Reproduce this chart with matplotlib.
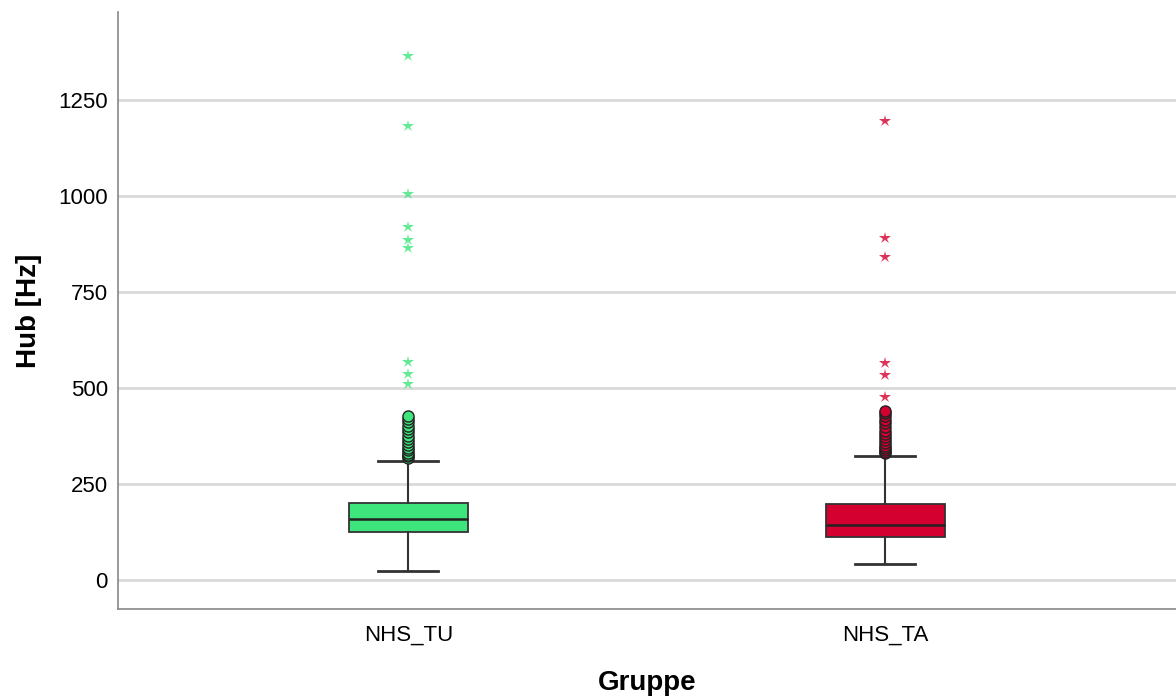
import matplotlib.pyplot as plt

plt.rcParams['font.family'] = ['Liberation Sans', 'DejaVu Sans']

# Gruppen und Farben
gruppen = ['NHS_TU', 'NHS_TA']
farben = ['#3ee47c', '#d4002f']

# Box-Kennwerte
q1 = [126, 113]
median = [158, 144]
q3 = [200, 197]
whisker_lo = [24, 41]
whisker_hi = [310, 323]

# Ausreißer (Kreise) und Extremwerte (Sterne)
ausreisser_tu = [318, 322, 327, 332, 338, 345, 352, 360, 368, 376, 385, 393, 402, 412, 420, 427]
ausreisser_ta = [330, 334, 338, 344, 350, 357, 364, 372, 380, 389, 398, 408, 418, 428, 436, 441]
extrem_tu = [1363, 1183, 1004, 918, 885, 864, 567, 536, 510]
extrem_ta = [1195, 891, 842, 566, 534, 477]

ausreisser = [ausreisser_tu, ausreisser_ta]
extrem = [extrem_tu, extrem_ta]

fig = plt.figure(figsize=(11.76, 6.96), dpi=100)
ax = fig.add_axes([0.1, 0.125, 0.9, 0.858])

stats = []
for i, g in enumerate(gruppen):
    stats.append({'label': g, 'q1': q1[i], 'med': median[i], 'q3': q3[i],
                  'whislo': whisker_lo[i], 'whishi': whisker_hi[i], 'fliers': []})

pos = [1, 2]
bp = ax.bxp(stats, positions=pos, widths=0.25, patch_artist=True, showfliers=False,
            boxprops=dict(edgecolor='#333333', linewidth=1.3),
            medianprops=dict(color='#222222', linewidth=1.8),
            whiskerprops=dict(color='#333333', linewidth=1.5),
            capprops=dict(color='#333333', linewidth=2.0),
            zorder=3)
for box, c in zip(bp['boxes'], farben):
    box.set_facecolor(c)
for cap in bp['caps']:
    x = cap.get_xdata()
    m = (x[0] + x[1]) / 2
    cap.set_xdata([m - 0.063, m + 0.063])

for i in range(2):
    ax.plot([pos[i]] * len(ausreisser[i]), ausreisser[i], 'o', markersize=8,
            markerfacecolor=farben[i], markeredgecolor='#222222', markeredgewidth=1.0, zorder=4)
    ax.plot([pos[i]] * len(extrem[i]), extrem[i], '*', markersize=9,
            color=farben[i], markeredgewidth=0, alpha=0.8, zorder=4)

ax.set_xlim(0.39, 2.61)
ax.set_ylim(-75, 1479)
ax.set_yticks([0, 250, 500, 750, 1000, 1250])
ax.set_xticks(pos)
ax.set_xticklabels(gruppen)
ax.yaxis.grid(True, color='#d9d9d9', linewidth=2)
ax.set_axisbelow(True)
ax.tick_params(length=0, labelsize=16, colors='#000000')
ax.tick_params(axis='y', pad=7)
ax.tick_params(axis='x', pad=11)

for s in ['top', 'right']:
    ax.spines[s].set_visible(False)
for s in ['left', 'bottom']:
    ax.spines[s].set_color('#888888')
    ax.spines[s].set_linewidth(1.2)

ax.set_ylabel('Hub [Hz]', fontsize=20, fontweight='bold', labelpad=12)
ax.set_xlabel('Gruppe', fontsize=20, fontweight='bold', labelpad=18)

fig.savefig('out.png', dpi=100)
